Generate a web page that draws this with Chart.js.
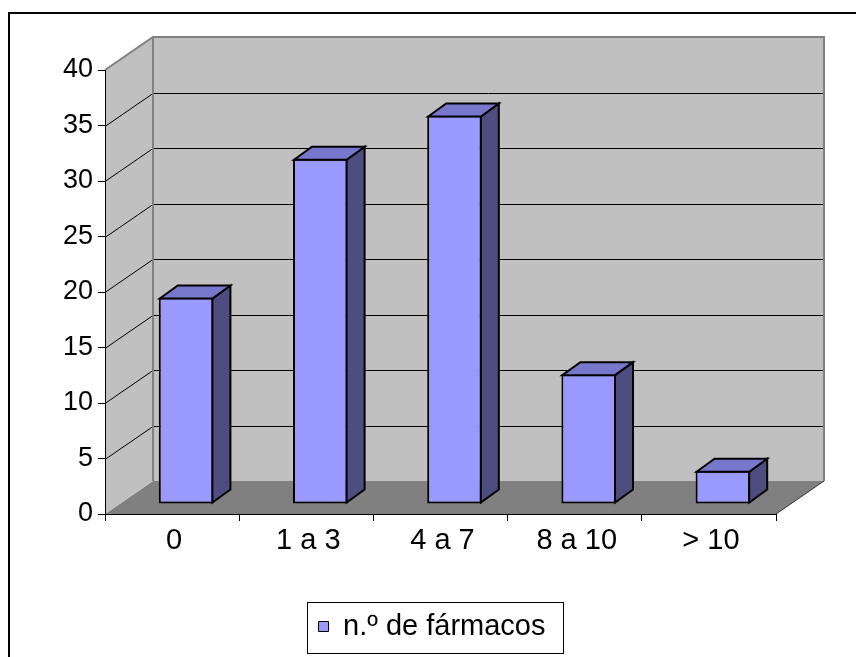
<!DOCTYPE html>
<html>
<head>
<meta charset="utf-8">
<script src="https://cdn.jsdelivr.net/npm/chart.js@4"></script>
<style>
  html, body { margin: 0; padding: 0; background: #fff; }
  canvas { display: block; }
</style>
</head>
<body>
<canvas id="c" width="856" height="657"></canvas>
<script>
// Number of drugs per patient
const categories = ['0', '1 a 3', '4 a 7', '8 a 10', '> 10'];
const seriesLabel = 'n.º de fármacos';
const farmacos = [18.6, 31.1, 35.0, 11.7, 3.0];
const yMin = 0, yMax = 40, yStep = 5;

const FONT = '"Liberation Sans", Arial, sans-serif';
const WALL = '#C0C0C0', FLOOR = '#808080', EDGE = '#808080';
const FRONT = '#9999FF', TOP = '#7777CC', SIDE = '#4D4D80';

// Oblique projection offsets in px: full wall depth, bar row depth, bar thickness
const wallD = { x: 48, y: 33 };
const rowD = { x: 14, y: 10 };
const barD = { x: 18, y: 13 };

function poly(ctx, pts, fill, stroke, lw) {
  ctx.beginPath();
  ctx.moveTo(pts[0][0], pts[0][1]);
  for (let i = 1; i < pts.length; i++) ctx.lineTo(pts[i][0], pts[i][1]);
  ctx.closePath();
  if (fill) { ctx.fillStyle = fill; ctx.fill(); }
  if (stroke) { ctx.strokeStyle = stroke; ctx.lineWidth = lw || 1; ctx.lineJoin = 'miter'; ctx.stroke(); }
}

// Background, frame, walls, floor and back gridlines
const walls = {
  id: 'walls',
  beforeDraw(chart) {
    const { ctx, chartArea: a, scales: { y } } = chart;
    const L = a.left, R = a.right, T = a.top, B = a.bottom;
    const dx = wallD.x, dy = wallD.y;
    ctx.save();
    ctx.fillStyle = '#fff';
    ctx.fillRect(0, 0, chart.width, chart.height);

    poly(ctx, [[L, B], [L + dx, B - dy], [R + dx, B - dy], [R, B]], FLOOR);
    poly(ctx, [[L, T], [L + dx, T - dy], [L + dx, B - dy], [L, B]], WALL);
    poly(ctx, [[L + dx, T - dy], [R + dx, T - dy], [R + dx, B - dy], [L + dx, B - dy]], WALL);

    ctx.strokeStyle = '#000';
    ctx.lineWidth = 1;
    y.ticks.forEach(t => {
      if (t.value <= yMin || t.value >= yMax) return;
      const py = Math.round(y.getPixelForValue(t.value)) + 0.5;
      ctx.beginPath();
      ctx.moveTo(L, py);
      ctx.lineTo(L + dx, py - dy);
      ctx.lineTo(R + dx, py - dy);
      ctx.stroke();
    });

    ctx.strokeStyle = EDGE;
    ctx.lineWidth = 2;
    ctx.beginPath();
    ctx.moveTo(L, T);
    ctx.lineTo(L + dx, T - dy);
    ctx.lineTo(R + dx, T - dy);
    ctx.lineTo(R + dx, B - dy);
    ctx.moveTo(L + dx, T - dy);
    ctx.lineTo(L + dx, B - dy);
    ctx.stroke();

    ctx.strokeStyle = '#333';
    ctx.lineWidth = 1;
    ctx.beginPath();
    ctx.moveTo(R, B);
    ctx.lineTo(R + dx, B - dy);
    ctx.stroke();

    // outer frame
    ctx.strokeStyle = '#000';
    ctx.lineWidth = 2;
    ctx.beginPath();
    ctx.moveTo(9, chart.height + 5);
    ctx.lineTo(9, 13);
    ctx.lineTo(chart.width + 5, 13);
    ctx.stroke();
    ctx.restore();
  }
};

// Bars sit one row deep; add their top and side faces
const bars3d = {
  id: 'bars3d',
  beforeDatasetsDraw(chart) {
    chart.ctx.save();
    chart.ctx.translate(rowD.x, -rowD.y);
  },
  afterDatasetsDraw(chart) {
    const ctx = chart.ctx;
    chart.getDatasetMeta(0).data.forEach(el => {
      const { x, y, base, width } = el.getProps(['x', 'y', 'base', 'width'], true);
      const l = x - width / 2 + 1, r = x + width / 2 - 1, t = y + 1, b = base - 1;
      poly(ctx, [[r, t], [r + barD.x, t - barD.y], [r + barD.x, b - barD.y], [r, b]], SIDE, '#000', 2);
      poly(ctx, [[l, t], [l + barD.x, t - barD.y], [r + barD.x, t - barD.y], [r, t]], TOP, '#000', 2);
    });
    ctx.restore();
  }
};

// Box around the legend
const legendFrame = {
  id: 'legendFrame',
  afterDraw(chart) {
    const hb = chart.legend && chart.legend.legendHitBoxes && chart.legend.legendHitBoxes[0];
    if (!hb) return;
    const ctx = chart.ctx;
    const cy = hb.top + hb.height / 2;
    const x0 = Math.round(hb.left - 12) + 0.5, x1 = Math.round(hb.left + hb.width + 18) + 0.5;
    const y0 = Math.round(cy - 25) + 0.5, y1 = Math.round(cy + 26) + 0.5;
    ctx.save();
    ctx.strokeStyle = '#000';
    ctx.lineWidth = 1;
    ctx.strokeRect(x0, y0, x1 - x0, y1 - y0);
    ctx.restore();
  }
};

new Chart(document.getElementById('c'), {
  type: 'bar',
  data: {
    labels: categories,
    datasets: [{
      label: seriesLabel,
      data: farmacos,
      backgroundColor: FRONT,
      borderColor: '#000',
      borderWidth: 2,
      borderSkipped: false,
      categoryPercentage: 1,
      barPercentage: 0.407,
      clip: false
    }]
  },
  options: {
    responsive: false,
    devicePixelRatio: 1,
    animation: false,
    layout: { padding: { top: 70, left: 8, right: 0, bottom: 6 } },
    plugins: {
      tooltip: { enabled: false },
      legend: {
        position: 'bottom',
        labels: {
          font: { family: FONT, size: 29 },
          color: '#000',
          boxWidth: 10,
          boxHeight: 10,
          padding: 6,
          generateLabels(chart) {
            const items = Chart.defaults.plugins.legend.labels.generateLabels(chart);
            items.forEach(i => { i.lineWidth = 1; });
            return items;
          }
        }
      }
    },
    scales: {
      x: {
        grid: { offset: true, drawOnChartArea: false, drawTicks: true, tickLength: 7, color: '#000', lineWidth: 1 },
        border: { color: '#000', width: 1 },
        ticks: { font: { family: FONT, size: 29 }, color: '#000', padding: 3, labelOffset: 2 },
        afterFit(s) { s.height = 92; }
      },
      y: {
        min: yMin,
        max: yMax,
        ticks: { stepSize: yStep, font: { family: FONT, size: 27 }, color: '#000', padding: 5 },
        grid: { drawOnChartArea: false, tickLength: 7, color: '#000', lineWidth: 1 },
        border: { color: '#000', width: 1 },
        afterFit(s) { s.width = 97; }
      },
      yr: {
        type: 'linear',
        position: 'right',
        grid: { display: false },
        border: { display: false },
        ticks: { display: false },
        afterFit(s) { s.width = 80; }
      }
    }
  },
  plugins: [walls, bars3d, legendFrame]
});
</script>
</body>
</html>
